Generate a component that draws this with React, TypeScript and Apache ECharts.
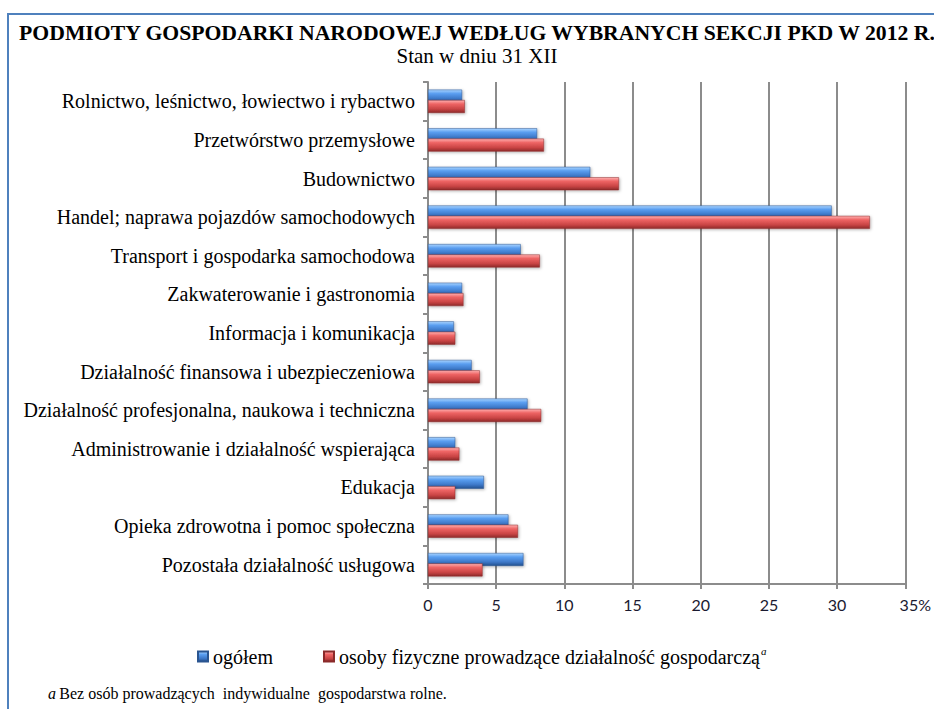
import React, { useEffect, useRef } from "react";
import * as echarts from "echarts";

const categories = [
  "Rolnictwo, leśnictwo, łowiectwo i rybactwo",
  "Przetwórstwo przemysłowe",
  "Budownictwo",
  "Handel; naprawa pojazdów samochodowych",
  "Transport i gospodarka samochodowa",
  "Zakwaterowanie i gastronomia",
  "Informacja i komunikacja",
  "Działalność finansowa i ubezpieczeniowa",
  "Działalność profesjonalna, naukowa i techniczna",
  "Administrowanie i działalność wspierająca",
  "Edukacja",
  "Opieka zdrowotna i pomoc społeczna",
  "Pozostała działalność usługowa",
];

const ogolem = [2.5, 8.0, 11.9, 29.6, 6.8, 2.5, 1.9, 3.2, 7.3, 2.0, 4.1, 5.9, 7.0];
const osobyFizyczne = [2.7, 8.5, 14.0, 32.4, 8.2, 2.6, 2.0, 3.8, 8.3, 2.3, 2.0, 6.6, 4.0];

const xTicks = [0, 5, 10, 15, 20, 25, 30, 35];

const seriesNames = ["ogółem", "osoby fizyczne prowadzące działalność gospodarczą"];

const SERIF = "Liberation Serif";
const SANS = "Lato";

const blueGrad = new echarts.graphic.LinearGradient(0, 0, 0, 1, [
  { offset: 0, color: "#a9d4ff" },
  { offset: 0.3, color: "#5a9ef0" },
  { offset: 0.7, color: "#3d78c8" },
  { offset: 1, color: "#24508e" },
]);
const redGrad = new echarts.graphic.LinearGradient(0, 0, 0, 1, [
  { offset: 0, color: "#ffb0b0" },
  { offset: 0.3, color: "#ee6464" },
  { offset: 0.7, color: "#c94444" },
  { offset: 1, color: "#8e2a2a" },
]);

export default function App() {
  const ref = useRef<HTMLDivElement>(null);
  useEffect(() => {
    if (!ref.current) return;
    const chart = echarts.init(ref.current, undefined, { renderer: "svg" });
    chart.setOption({
      animation: false,
      backgroundColor: "#ffffff",
      textStyle: { fontFamily: SERIF },
      title: {
        text: "PODMIOTY GOSPODARKI NARODOWEJ WEDŁUG WYBRANYCH SEKCJI PKD W 2012 R.",
        subtext: "Stan w dniu 31 XII",
        left: 472,
        textAlign: "center",
        top: 17,
        itemGap: 1,
        textStyle: { fontFamily: SERIF, fontWeight: "bold", fontSize: 21.7, color: "#000" },
        subtextStyle: { fontFamily: SERIF, fontSize: 21, color: "#000" },
      },
      legend: {
        left: 192,
        top: 640,
        itemWidth: 10,
        itemHeight: 10,
        itemGap: 50,
        icon: "rect",
        data: seriesNames,
        formatter: (name: string) =>
          name === seriesNames[1] ? "{t|" + name + "}{s|a}" : "{t|" + name + "}",
        textStyle: {
          fontFamily: SERIF,
          fontSize: 20,
          color: "#000",
          rich: {
            t: { fontFamily: SERIF, fontSize: 20, color: "#000" },
            s: { fontFamily: SERIF, fontSize: 11, fontStyle: "italic", color: "#000", verticalAlign: "top", padding: [0, 0, 12, 1] },
          },
        },
      },
      grid: { left: 428, right: 28, top: 82, bottom: 125, containLabel: false },
      xAxis: {
        type: "value",
        min: 0,
        max: 35,
        interval: 5,
        axisLine: { show: true, lineStyle: { color: "#8c8c8c", width: 2 } },
        axisTick: { show: true, length: 5, lineStyle: { color: "#8c8c8c", width: 2 } },
        splitLine: { show: true, lineStyle: { color: "#8c8c8c", width: 2 } },
        axisLabel: {
          margin: 12,
          fontFamily: SANS,
          fontSize: 16,
          color: "#1a1a30",
          formatter: (v: number) => (v === 35 ? "{p|35%}" : String(v)),
          rich: {
            p: { fontFamily: SANS, fontSize: 16, color: "#1a1a30", padding: [0, 0, 0, 20] },
          },
        },
      },
      yAxis: {
        type: "category",
        inverse: true,
        data: categories,
        axisLine: { show: true, lineStyle: { color: "#8c8c8c", width: 2 } },
        axisTick: { show: true, length: 5, lineStyle: { color: "#8c8c8c", width: 2 } },
        axisLabel: { margin: 13, fontFamily: SERIF, fontSize: 20, color: "#000" },
      },
      series: [
        {
          name: seriesNames[0],
          type: "bar",
          data: ogolem,
          barWidth: 13,
          barGap: "-20%",
          itemStyle: {
            color: blueGrad,
            borderColor: "#2a5590",
            borderWidth: 0.5,
            shadowBlur: 3,
            shadowColor: "rgba(0,0,0,0.3)",
            shadowOffsetY: 1,
            shadowOffsetX: 1,
          },
        },
        {
          name: seriesNames[1],
          type: "bar",
          data: osobyFizyczne,
          barWidth: 13,
          itemStyle: {
            color: redGrad,
            borderColor: "#8a2a2a",
            borderWidth: 0.5,
            shadowBlur: 3,
            shadowColor: "rgba(0,0,0,0.3)",
            shadowOffsetY: 1,
            shadowOffsetX: 1,
          },
        },
      ],
      graphic: [
        {
          type: "rect",
          shape: { x: 8, y: 14, width: 940, height: 720 },
          style: { fill: "none", stroke: "#4f81bd", lineWidth: 2 },
          silent: true,
        },
        {
          type: "text",
          left: 48,
          top: 685,
          style: {
            text: "{i|a} {n|Bez osób prowadzących  indywidualne  gospodarstwa rolne.}",
            rich: {
              i: { fontFamily: SERIF, fontStyle: "italic", fontSize: 16, fill: "#000" },
              n: { fontFamily: SERIF, fontSize: 16, fill: "#000" },
            },
          },
        },
      ],
    });
    return () => chart.dispose();
  }, []);
  return (
    <div
      ref={ref}
      style={{ position: "absolute", left: 0, top: 0, width: 934, height: 709 }}
    />
  );
}
